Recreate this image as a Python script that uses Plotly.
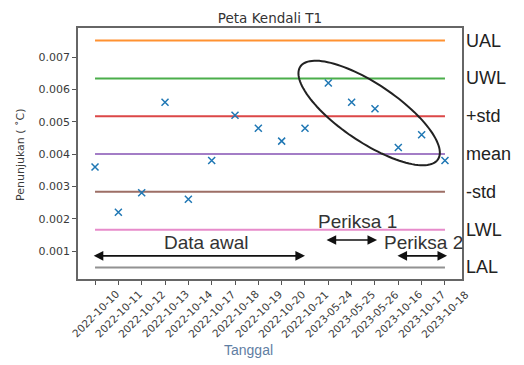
import numpy as np
import plotly.graph_objects as go

# ---- data ----
dates = ["2022-10-10", "2022-10-11", "2022-10-12", "2022-10-13", "2022-10-14",
         "2022-10-17", "2022-10-18", "2022-10-19", "2022-10-20", "2022-10-21",
         "2023-05-24", "2023-05-25", "2023-05-26", "2023-10-16", "2023-10-17",
         "2023-10-18"]
values = [0.0036, 0.0022, 0.0028, 0.0056, 0.0026, 0.0038, 0.0052, 0.0048,
          0.0044, 0.0048, 0.0062, 0.0056, 0.0054, 0.0042, 0.0046, 0.0038]
limit_names = ["UAL", "UWL", "+std", "mean", "-std", "LWL", "LAL"]
limit_values = [0.00751, 0.00634, 0.00517, 0.00400, 0.00283, 0.00166, 0.00049]
limit_colors = ["#ff7f0e", "#2ca02c", "#d62728", "#9467bd", "#8c564b", "#e377c2", "#7f7f7f"]
y_ticks = [0.001, 0.002, 0.003, 0.004, 0.005, 0.006, 0.007]

idx = list(range(len(dates)))
XR = [-0.73, 15.73]
YR = [0.000134, 0.0079]
W, H = 516, 357
ML, MR, MT, MB = 70, 62, 20, 86
PW, PH = W - ML - MR, H - MT - MB

fig = go.Figure()
for name, v, c in zip(limit_names, limit_values, limit_colors):
    fig.add_trace(go.Scatter(x=[idx[0], idx[-1]], y=[v, v], mode="lines",
                             line=dict(color=c, width=2), opacity=0.85,
                             name=name, showlegend=False, hoverinfo="skip"))
fig.add_trace(go.Scatter(x=idx, y=values, mode="markers", showlegend=False,
                         marker=dict(symbol="x-thin", size=7, color="#1f77b4",
                                     line=dict(width=1.5, color="#1f77b4"))))

annotations = []
# right side labels
for name, v in zip(limit_names, limit_values):
    annotations.append(dict(x=1.0, xref="paper", y=v, yref="y", text=name,
                            showarrow=False, xanchor="left", yanchor="middle",
                            xshift=2,
                            font=dict(family="Liberation Sans", size=18, color="#222")))
# rotated tick labels centred on ticks
for i, d in zip(idx, dates):
    annotations.append(dict(x=i, xref="x", y=-0.139, yref="paper", text=d,
                            showarrow=False, textangle=-45,
                            xanchor="center", yanchor="middle",
                            font=dict(family="DejaVu Sans", size=10.5, color="#3a3a3a")))
# axis titles
annotations.append(dict(x=0.445, xref="paper", y=-0.283, yref="paper", text="Tanggal",
                        showarrow=False, xanchor="center", yanchor="middle",
                        font=dict(family="Liberation Sans", size=14, color="#5f7ea3")))
annotations.append(dict(x=-0.151, xref="paper", y=0.494, yref="paper",
                        text="Penunjukan ( ˚C)", textangle=-90,
                        showarrow=False, xanchor="center", yanchor="middle",
                        font=dict(family="DejaVu Sans", size=11, color="#3a3a3a")))

# range arrows and their labels
arrows = [(-0.12, 9.0, 0.00085, "Data awal", 4.76, 0.00125),
          (9.86, 12.09, 0.00134, "Periksa 1", 11.25, 0.0019),
          (12.9, 15.09, 0.00085, "Periksa 2", 14.06, 0.00125)]
for x0, x1, ya, label, lx, ly in arrows:
    annotations.append(dict(x=x1, y=ya, xref="x", yref="y", ax=x0, ay=ya,
                            axref="x", ayref="y", text="", showarrow=True,
                            arrowhead=2, startarrowhead=2, arrowside="end+start",
                            arrowsize=1.2, startarrowsize=1.2,
                            arrowwidth=1.6, arrowcolor="#111"))
    annotations.append(dict(x=lx, y=ly, xref="x", yref="y", text=label,
                            showarrow=False,
                            font=dict(family="Liberation Sans", size=19, color="#333")))

# ellipse around the later points (pixel-space shape converted to data)
cx, cy = 11.75, 0.00527
a_px, b_px, th = 83, 29, np.deg2rad(34)
sx = PW / (XR[1] - XR[0])
sy = PH / (YR[1] - YR[0])
t = np.linspace(0, 2 * np.pi, 120)
dx = a_px * np.cos(t) * np.cos(th) - b_px * np.sin(t) * np.sin(th)
dy = a_px * np.cos(t) * np.sin(th) + b_px * np.sin(t) * np.cos(th)
ex = cx + dx / sx
ey = cy - dy / sy
path = "M " + " L ".join(f"{x:.4f},{y:.6f}" for x, y in zip(ex, ey)) + " Z"

fig.update_layout(
    width=W, height=H, margin=dict(l=ML, r=MR, t=MT, b=MB),
    paper_bgcolor="white", plot_bgcolor="white",
    title=dict(text="Peta Kendali T1", x=(ML + PW / 2) / W, xanchor="center",
               y=1 - 10 / H, yanchor="middle",
               font=dict(family="DejaVu Sans", size=13.5, color="#333")),
    annotations=annotations,
    shapes=[dict(type="path", path=path, xref="x", yref="y",
                 line=dict(color="#222", width=2))],
    xaxis=dict(range=XR, tickvals=idx, showticklabels=False, ticks="outside",
               ticklen=4, tickcolor="#555", showgrid=False, zeroline=False,
               showline=True, mirror=True, linecolor="#666", linewidth=1.5),
    yaxis=dict(range=YR, tickvals=y_ticks,
               tickformat=".3f", ticks="outside", ticklen=4, tickcolor="#555",
               tickfont=dict(family="DejaVu Sans", size=11, color="#3a3a3a"),
               showgrid=False, zeroline=False, showline=True, mirror=True,
               linecolor="#666", linewidth=1.5),
)

fig.write_html("out.html")
